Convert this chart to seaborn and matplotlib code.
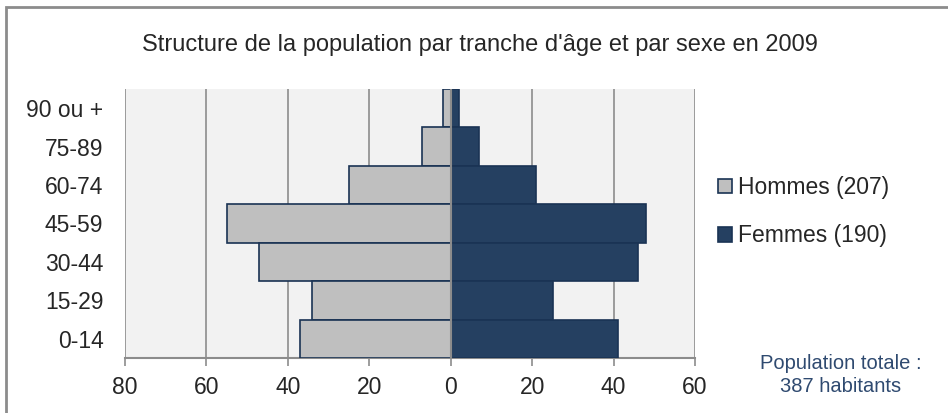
import matplotlib
matplotlib.use("Agg")
import matplotlib.pyplot as plt
from matplotlib.patches import Rectangle
import seaborn as sns
import pandas as pd

ages = ['90 ou +', '75-89', '60-74', '45-59', '30-44', '15-29', '0-14']
hommes = [2, 7, 25, 55, 47, 34, 37]
femmes = [2, 7, 21, 48, 46, 25, 41]
xticks = [-80, -60, -40, -20, 0, 20, 40, 60]
lab_h = 'Hommes (207)'
lab_f = 'Femmes (190)'

GRAY = '#BFBFBF'
NAVY = '#254061'
EDGE = '#1A3354'

df = pd.DataFrame({
    'age': ages * 2,
    'val': [-v for v in hommes] + femmes,
    'sexe': [lab_h] * len(ages) + [lab_f] * len(ages),
})

sns.set_style('white')
plt.rcParams['font.family'] = ['Liberation Sans', 'DejaVu Sans']

fig = plt.figure(figsize=(9.48, 4.13), dpi=100)
ax = fig.add_axes([125 / 948, 1 - 358 / 413, (695 - 125) / 948, (358 - 89) / 413])
ax.set_facecolor('#F2F2F2')

sns.barplot(data=df, x='val', y='age', hue='sexe', order=ages, dodge=False,
            palette={lab_h: GRAY, lab_f: NAVY}, saturation=1, width=1.0, orient='h',
            edgecolor=EDGE, linewidth=1.2, ax=ax, zorder=3)

ax.set_xlim(-80, 60)
ax.set_xticks(xticks)
ax.set_xticklabels([str(abs(t)) for t in xticks])
for t in xticks:
    ax.axvline(t, color='#8C8C8C', lw=1.2, zorder=1)
ax.axvline(0, color='#8C8C8C', lw=1.5, zorder=4)
ax.set_xlabel('')
ax.set_ylabel('')
for s in ['top', 'right', 'left']:
    ax.spines[s].set_visible(False)
ax.spines['bottom'].set_color('#8C8C8C')
ax.spines['bottom'].set_linewidth(1.5)
ax.tick_params(axis='x', bottom=True, length=6, width=1.2, color='#8C8C8C',
               labelsize=16.5, pad=7)
ax.tick_params(axis='y', left=False, labelsize=16.5, pad=12)

ax.legend_.remove()
handles, labels = ax.get_legend_handles_labels()
fig.legend(handles, labels, loc='center left', bbox_to_anchor=(0.736, 0.487),
           frameon=False, fontsize=16.5, handlelength=0.6, handleheight=0.6,
           handletextpad=0.25, labelspacing=1.1)

fig.text(0.506, 0.89, "Structure de la population par tranche d'âge et par sexe en 2009",
         ha='center', va='center', fontsize=17)
fig.text(0.887, 0.092, 'Population totale :\n387 habitants', ha='center', va='center',
         fontsize=14.5, color='#2F4A70', linespacing=1.3)

fig.patches.append(Rectangle((6 / 948, -0.1), 1.2, 1 - 7 / 413 + 0.1, transform=fig.transFigure,
                             fill=False, edgecolor='#8C8C8C', lw=2))

fig.savefig('out.png', dpi=100)
